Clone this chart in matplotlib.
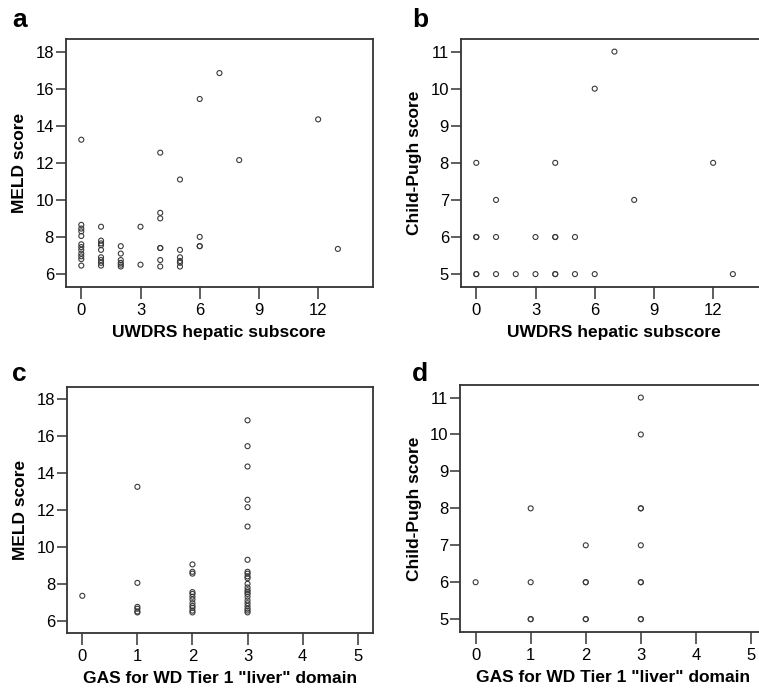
import matplotlib
matplotlib.use("Agg")
import matplotlib.pyplot as plt
import numpy as np

plt.rcParams['font.family'] = ['Liberation Sans', 'DejaVu Sans']

# panel a / b : UWDRS hepatic subscore
uwdrs_meld_x = [0]*12 + [1]*9 + [2]*6 + [3]*2 + [4]*7 + [5]*6 + [6]*4 + [7, 8, 12, 13]
uwdrs_meld_y = [13.25, 8.65, 8.45, 8.3, 8.05, 7.6, 7.45, 7.3, 7.1, 6.95, 6.8, 6.45,
                8.55, 7.8, 7.65, 7.55, 7.3, 6.9, 6.75, 6.6, 6.45,
                7.5, 7.1, 6.75, 6.6, 6.5, 6.4,
                8.55, 6.5,
                12.55, 9.3, 9.0, 7.4, 7.4, 6.75, 6.4,
                11.1, 7.3, 6.9, 6.7, 6.6, 6.4,
                15.45, 8.0, 7.5, 7.5,
                16.85, 12.15, 14.35, 7.35]

uwdrs_cp_x = [0, 0, 0, 0, 0, 1, 1, 1, 2, 3, 3, 4, 4, 4, 4, 4, 5, 5, 6, 6, 7, 8, 12, 13]
uwdrs_cp_y = [8, 6, 6, 5, 5, 7, 6, 5, 5, 6, 5, 8, 6, 6, 5, 5, 6, 5, 10, 5, 11, 7, 8, 5]

# panel c / d : GAS for WD Tier 1 "liver" domain
gas_meld_x = [0] + [1]*6 + [2]*12 + [3]*23
gas_meld_y = [7.35,
              13.25, 8.05, 6.75, 6.65, 6.5, 6.45,
              9.05, 8.65, 8.55, 7.55, 7.45, 7.3, 7.15, 6.95, 6.8, 6.7, 6.55, 6.45,
              16.85, 15.45, 14.35, 12.55, 12.15, 11.1, 9.3, 8.65, 8.55, 8.4, 8.3,
              8.0, 7.8, 7.65, 7.55, 7.45, 7.3, 7.1, 6.95, 6.8, 6.65, 6.55, 6.45]

gas_cp_x = [0, 1, 1, 1, 1, 2, 2, 2, 2, 2, 3, 3, 3, 3, 3, 3, 3, 3, 3]
gas_cp_y = [6, 8, 6, 5, 5, 7, 6, 6, 5, 5, 11, 10, 8, 8, 7, 6, 6, 5, 5]

W, H = 759, 695
fig = plt.figure(figsize=(W/100, H/100), dpi=100)


def px_axes(left, top, right, bottom):
    return fig.add_axes([left/W, (H-bottom)/H, (right-left)/W, (bottom-top)/H])


def style(ax, x, y, xlabel, ylabel, xticks, yticks, xlim, ylim, cut_right=False):
    ax.scatter(x, y, s=13, facecolors='none', edgecolors='#3a3a3a',
               linewidths=0.8, zorder=3, clip_on=False)
    ax.set_xlim(*xlim)
    ax.set_ylim(*ylim)
    ax.set_xticks(xticks)
    ax.set_yticks(yticks)
    for s in ax.spines.values():
        s.set_color('#333333')
        s.set_linewidth(1.3)
    if cut_right:
        # the panel runs off the right edge of the figure
        ax.spines['right'].set_visible(False)
    ax.tick_params(axis='x', direction='out', length=8.5, width=1.1, color='#333333',
                   labelsize=12, pad=3)
    ax.tick_params(axis='y', direction='out', length=7, width=1.1, color='#333333',
                   labelsize=12, pad=1.5)
    ax.set_xlabel(xlabel, fontsize=12.5, fontweight='bold', labelpad=5)
    ax.set_ylabel(ylabel, fontsize=12.5, fontweight='bold', labelpad=6)


ax_a = px_axes(65.7, 39, 373, 286.7)
style(ax_a, uwdrs_meld_x, uwdrs_meld_y, 'UWDRS hepatic subscore', 'MELD score',
      [0, 3, 6, 9, 12], [6, 8, 10, 12, 14, 16, 18], (-0.79, 14.78), (5.31, 18.69))

ax_b = px_axes(460.7, 39, 768, 286.7)
style(ax_b, uwdrs_cp_x, uwdrs_cp_y, 'UWDRS hepatic subscore', 'Child-Pugh score',
      [0, 3, 6, 9, 12], [5, 6, 7, 8, 9, 10, 11], (-0.79, 14.78), (4.66, 11.34),
      cut_right=True)

ax_c = px_axes(67, 386.7, 373, 633.3)
style(ax_c, gas_meld_x, gas_meld_y, 'GAS for WD Tier 1 "liver" domain', 'MELD score',
      [0, 1, 2, 3, 4, 5], [6, 8, 10, 12, 14, 16, 18], (-0.278, 5.278), (5.32, 18.67))

ax_d = px_axes(460.3, 385, 766.3, 631.7)
style(ax_d, gas_cp_x, gas_cp_y, 'GAS for WD Tier 1 "liver" domain', 'Child-Pugh score',
      [0, 1, 2, 3, 4, 5], [5, 6, 7, 8, 9, 10, 11], (-0.278, 5.278), (4.66, 11.34),
      cut_right=True)

for lab, x, y in [('a', 12, 20), ('b', 412, 20), ('c', 12, 374), ('d', 412, 374)]:
    fig.text(x/W, 1 - y/H, lab, fontsize=19, fontweight='bold', va='center', ha='left')

fig.savefig('out.png', dpi=100)
